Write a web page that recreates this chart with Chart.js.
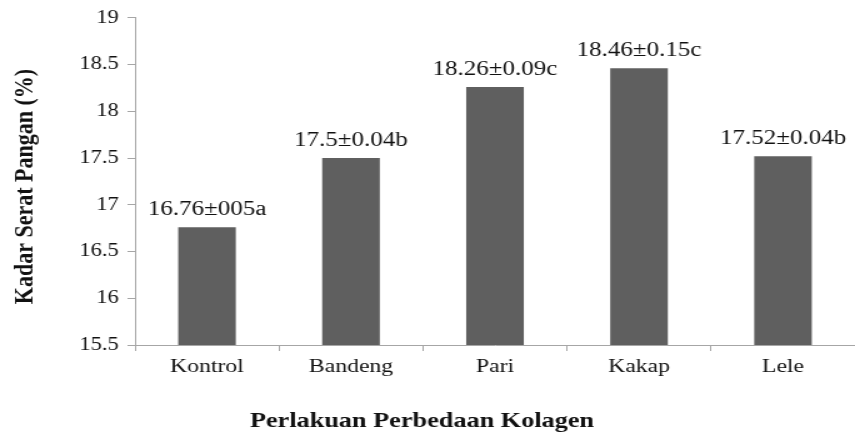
<!DOCTYPE html>
<html>
<head>
<meta charset="utf-8">
<script src="https://cdn.jsdelivr.net/npm/chart.js@4"></script>
<style>
  html, body { margin: 0; padding: 0; background: #fff; overflow: hidden; }
  /* the original figure is stretched sideways, so the canvas is too */
  #wrap { width: 684px; height: 434px; transform: scaleX(1.25); transform-origin: 0 0; }
</style>
</head>
<body>
<div id="wrap"><canvas id="kadarChart" width="684" height="434"></canvas></div>
<script>
// --- DATA ---
const categories = ['Kontrol', 'Bandeng', 'Pari', 'Kakap', 'Lele'];
const kadarSerat = [16.76, 17.5, 18.26, 18.46, 17.52];
const barLabels = ['16.76\u00b1005a', '17.5\u00b10.04b', '18.26\u00b10.09c', '18.46\u00b10.15c', '17.52\u00b10.04b'];
const yTicks = { min: 15.5, max: 19, step: 0.5 };
const yTitle = 'Kadar Serat Pangan (%)';
const xTitle = 'Perlakuan Perbedaan Kolagen';

const SERIF = "'Liberation Serif', 'Times New Roman', serif";
const AXIS_GRAY = '#a6a6a6';

// value labels above bars + axis titles
const labelsPlugin = {
    id: 'labelsPlugin',
    afterDatasetsDraw(chart) {
        const ctx = chart.ctx;
        const meta = chart.getDatasetMeta(0);
        ctx.save();
        ctx.fillStyle = '#111';
        ctx.font = '20px ' + SERIF;
        ctx.textAlign = 'center';
        ctx.textBaseline = 'alphabetic';
        meta.data.forEach((bar, i) => {
            ctx.fillText(barLabels[i], bar.x, bar.y - 12);
        });

        // x title
        ctx.font = 'bold 21px ' + SERIF;
        ctx.fillText(xTitle, 337.6, 427);

        // y title (rotated)
        ctx.translate(25.6, 186.5);
        ctx.rotate(-Math.PI / 2);
        ctx.font = 'bold 22px ' + SERIF;
        ctx.fillText(yTitle, 0, 0);
        ctx.restore();
    }
};

const ctx = document.getElementById('kadarChart').getContext('2d');
const kadarChart = new Chart(ctx, {
    type: 'bar',
    data: {
        labels: categories,
        datasets: [{
            data: kadarSerat,
            backgroundColor: '#5f5f5f',
            barPercentage: 0.4,
            categoryPercentage: 1.0
        }]
    },
    options: {
        responsive: false,
        animation: false,
        layout: { padding: { top: 14, left: 0, right: 0, bottom: 0 } },
        plugins: {
            legend: { display: false },
            tooltip: { enabled: false }
        },
        scales: {
            x: {
                grid: { drawOnChartArea: false, color: AXIS_GRAY, tickLength: 6 },
                border: { color: AXIS_GRAY },
                ticks: { color: '#111', font: { family: SERIF, size: 19 }, padding: 5 },
                afterFit(scale) { scale.height = 89; }
            },
            y: {
                min: yTicks.min,
                max: yTicks.max,
                grid: { drawOnChartArea: false, color: AXIS_GRAY, tickLength: 6 },
                border: { color: AXIS_GRAY },
                ticks: {
                    stepSize: yTicks.step,
                    color: '#111',
                    font: { family: SERIF, size: 18 },
                    padding: 7,
                    callback: (v) => String(v)
                },
                afterFit(scale) { scale.width = 108; }
            }
        }
    },
    plugins: [labelsPlugin]
});
</script>
</body>
</html>
